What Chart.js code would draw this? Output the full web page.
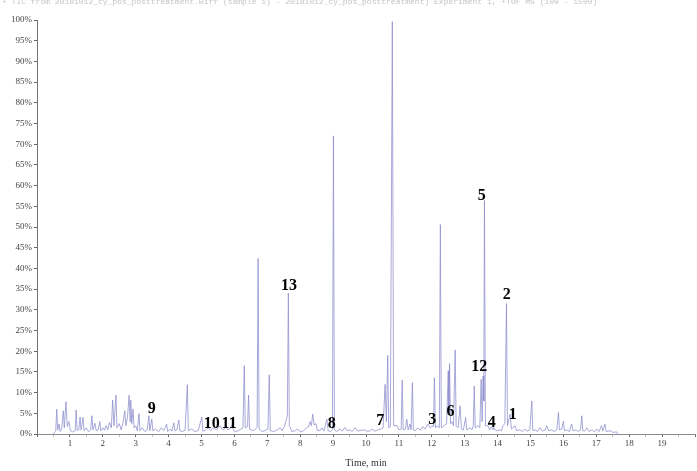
<!DOCTYPE html>
<html>
<head>
<meta charset="utf-8">
<script src="https://cdn.jsdelivr.net/npm/chart.js@4"></script>
<style>
html,body{margin:0;padding:0;background:#fff;}
canvas{display:block;}
</style>
</head>
<body>
<canvas id="c" width="697" height="471" style="width:697px;height:471px"></canvas>
<script>
// Retention time (min)
const times = [
0.50,0.57,0.60,0.63,0.67,0.70,0.75,0.80,0.83,0.88,0.92,0.97,1.02,1.08,1.16,1.19,1.22,1.27,1.31,1.34,
1.40,1.43,1.50,1.56,1.63,1.67,1.70,1.76,1.80,1.86,1.91,1.94,2.00,2.05,2.10,2.15,2.20,2.26,2.30,2.34,
2.40,2.43,2.50,2.56,2.62,2.67,2.70,2.75,2.80,2.83,2.85,2.88,2.92,2.95,3.00,3.05,3.10,3.13,3.20,3.28,
3.35,3.40,3.43,3.49,3.52,3.60,3.70,3.78,3.85,3.94,3.97,4.05,4.10,4.16,4.19,4.25,4.31,4.34,4.42,4.50,
4.57,4.60,4.70,4.80,4.90,5.01,5.04,5.12,5.20,5.28,5.35,5.45,5.56,5.62,5.68,5.74,5.80,5.86,5.93,5.98,
6.05,6.12,6.20,6.26,6.30,6.33,6.40,6.43,6.46,6.55,6.62,6.69,6.72,6.75,6.85,6.95,7.02,7.06,7.09,7.20,
7.30,7.39,7.45,7.52,7.58,7.61,7.64,7.67,7.75,7.85,7.93,8.00,8.10,8.20,8.26,8.30,8.34,8.38,8.42,8.48,
8.52,8.60,8.66,8.72,8.81,8.85,8.92,8.98,9.01,9.04,9.10,9.21,9.28,9.36,9.42,9.51,9.58,9.67,9.75,9.85,
9.97,10.05,10.12,10.18,10.26,10.36,10.45,10.52,10.58,10.62,10.66,10.69,10.74,10.80,10.84,10.94,11.00,11.07,11.10,11.13,
11.20,11.24,11.28,11.34,11.37,11.41,11.44,11.50,11.58,11.65,11.73,11.80,11.88,11.95,12.00,12.05,12.08,12.11,12.16,12.23,
12.26,12.29,12.37,12.45,12.50,12.52,12.54,12.57,12.61,12.66,12.71,12.74,12.80,12.86,12.90,12.96,13.03,13.06,13.16,13.22,
13.26,13.29,13.32,13.40,13.46,13.50,13.53,13.56,13.58,13.60,13.63,13.71,13.76,13.82,13.86,13.89,13.95,14.07,14.12,14.16,
14.22,14.27,14.30,14.38,14.42,14.53,14.58,14.68,14.75,14.83,14.90,14.98,15.04,15.07,15.14,15.22,15.29,15.36,15.45,15.49,
15.55,15.65,15.72,15.80,15.85,15.88,15.95,16.00,16.03,16.11,16.18,16.25,16.29,16.38,16.45,16.52,16.56,16.59,16.65,16.71,
16.78,16.87,16.94,17.02,17.08,17.16,17.20,17.26,17.30,17.42,17.50,17.62,17.65
];
// Relative intensity (%)
const intensity = [
0.0,0.8,6.0,1.0,2.4,0.6,1.2,5.6,1.5,7.8,1.8,3.0,0.8,0.5,0.8,5.8,0.9,1.0,4.1,1.0,
4.0,0.8,1.5,0.6,1.0,4.4,1.0,2.6,0.8,1.0,3.0,0.8,1.5,0.9,2.0,1.0,2.8,1.5,8.2,2.0,
9.4,1.5,2.5,1.0,3.0,5.6,2.0,4.0,9.4,3.0,8.2,2.5,6.0,1.5,2.0,0.8,4.9,0.8,1.5,0.6,
1.0,4.4,0.8,3.6,0.8,1.2,0.6,1.5,0.8,2.4,0.6,1.2,0.7,2.7,0.8,1.0,3.4,0.8,0.6,0.9,
11.9,0.8,1.2,0.6,0.8,4.1,0.7,0.9,1.5,0.8,1.6,1.0,2.0,1.2,1.0,1.8,1.0,1.2,2.2,0.8,
0.6,0.8,1.2,1.5,16.5,1.5,1.8,9.4,1.2,0.8,1.0,1.6,42.4,1.2,0.6,0.9,1.2,14.3,0.8,0.6,
1.0,1.5,0.8,1.8,3.5,4.5,34.0,2.0,0.6,0.8,1.2,0.5,0.8,1.5,1.8,3.0,2.0,4.8,2.2,2.5,
0.9,0.8,1.5,0.7,3.6,0.8,0.6,1.0,72.0,1.0,0.6,1.2,0.7,1.6,0.8,1.0,0.6,1.5,0.7,0.9,
1.0,0.6,0.8,1.2,0.7,1.0,1.2,1.5,12.0,3.0,19.0,1.5,1.8,99.6,2.0,2.0,1.0,1.2,13.0,1.0,
1.2,3.6,1.0,2.4,1.0,12.4,1.0,0.8,1.5,0.9,1.8,1.2,2.4,1.5,2.0,1.8,13.6,1.5,2.0,1.5,
50.6,1.5,2.0,2.5,15.3,5.0,17.0,2.5,3.0,2.0,20.3,2.0,1.5,6.8,1.2,1.0,4.0,1.0,1.5,1.0,
2.0,11.6,1.5,2.0,1.5,13.2,3.0,14.0,8.0,56.4,2.0,2.0,1.0,1.8,1.0,1.5,0.8,1.0,0.8,2.0,
2.5,31.5,2.0,4.8,1.2,2.0,0.8,1.0,0.6,1.2,0.7,1.0,8.0,0.8,1.0,0.6,1.5,0.7,1.0,2.0,
0.8,1.0,0.6,1.0,5.2,1.0,1.2,3.1,0.8,1.0,0.6,2.4,0.8,1.0,0.6,1.0,4.4,0.8,0.7,1.5,
0.6,1.0,0.5,1.2,0.6,2.0,0.7,2.4,0.6,0.8,0.4,0.5,0.0
];
// Peak annotation labels and their positions (time, %)
const peakLabels = ['9','10','11','13','8','7','3','6','12','5','4','1','2'];
const peakLabelTimes = [3.49,5.31,5.84,7.66,8.96,10.43,12.01,12.57,13.44,13.52,13.82,14.46,14.28];
const peakLabelValues = [6.1,2.4,2.5,35.8,2.4,3.1,3.4,5.4,16.2,57.6,2.7,4.6,33.7];

const headerText = '+ TIC from 20181012_cy_pos_posttreatment.wiff (sample 1) - 20181012_cy_pos_posttreatment) Experiment 1, +TOF MS (100 - 1500)';

const points = times.map((t, i) => ({x: t, y: intensity[i]}));

const labelPlugin = {
  id: 'peakLabels',
  afterDatasetsDraw(chart) {
    const ctx = chart.ctx;
    const xs = chart.scales.x, ys = chart.scales.y;
    ctx.save();
    ctx.fillStyle = '#000';
    ctx.font = 'bold 16px "Liberation Serif", "Times New Roman", serif';
    ctx.textAlign = 'center';
    ctx.textBaseline = 'middle';
    peakLabels.forEach((lab, i) => {
      ctx.fillText(lab, xs.getPixelForValue(peakLabelTimes[i]), ys.getPixelForValue(peakLabelValues[i]));
    });
    ctx.restore();
  },
  beforeDraw(chart) {
    const ctx = chart.ctx;
    ctx.save();
    ctx.fillStyle = '#fff';
    ctx.fillRect(0, 0, chart.width, chart.height);
    ctx.fillStyle = '#c4c4c4';
    ctx.font = '8px "Liberation Mono", monospace';
    ctx.textAlign = 'left';
    ctx.textBaseline = 'middle';
    ctx.fillText(headerText, 2, 2);
    ctx.restore();
  }
};

new Chart(document.getElementById('c'), {
  type: 'line',
  data: {
    datasets: [{
      data: points,
      borderColor: 'rgba(140,140,205,0.75)',
      borderWidth: 1,
      pointRadius: 0,
      tension: 0,
      fill: false
    }]
  },
  options: {
    responsive: false,
    animation: false,
    devicePixelRatio: 1,
    layout: {padding: {top: 20, right: 2, left: 0, bottom: 0}},
    plugins: {legend: {display: false}, tooltip: {enabled: false}},
    scales: {
      x: {
        type: 'linear', min: 0, max: 20,
        afterFit: s => { s.height = 37; },
        ticks: {
          stepSize: 0.5, autoSkip: false, maxRotation: 0, padding: 1,
          color: '#444',
          font: {family: '"Liberation Serif", serif', size: 9},
          callback: v => (Number.isInteger(v) && v > 0 && v < 20) ? String(v) : ''
        },
        grid: {
          drawOnChartArea: false, drawTicks: true, tickLength: 3,
          tickColor: c => (c.tick && Number.isInteger(c.tick.value)) ? '#666' : 'rgba(120,120,120,0.45)'
        },
        border: {color: '#8a8a8a', width: 1},
        title: {
          display: true, text: 'Time, min', color: '#333',
          font: {family: '"Liberation Serif", serif', size: 10},
          padding: {top: 0, bottom: 2}
        }
      },
      y: {
        min: 0, max: 100,
        afterFit: s => { s.width = 37; },
        ticks: {
          stepSize: 5, padding: 2, color: '#444',
          font: {family: '"Liberation Serif", serif', size: 9},
          callback: v => v + '%'
        },
        grid: {drawOnChartArea: false, drawTicks: true, tickLength: 3, tickColor: '#666'},
        border: {color: '#777', width: 1}
      }
    }
  },
  plugins: [labelPlugin]
});
</script>
</body>
</html>
